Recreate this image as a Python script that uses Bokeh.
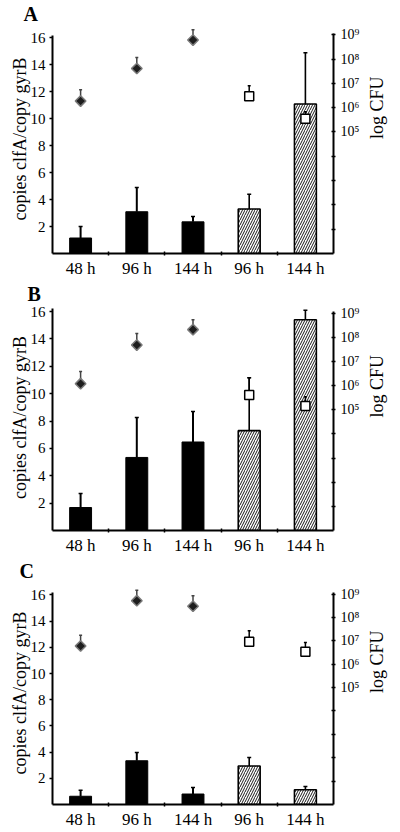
import math
from bokeh.plotting import figure
from bokeh.models import Range1d, LinearAxis, FixedTicker
from bokeh.layouts import column
from bokeh.embed import file_html
from bokeh.resources import INLINE

categories = ["48 h", "96 h", "144 h", "96 h", "144 h"]
left_ticks = [2, 4, 6, 8, 10, 12, 14, 16]
log_ticks = [1, 2, 3, 4, 5, 6, 7, 8, 9]
log_labels = {1: "", 2: "", 3: "", 4: "", 5: "10⁵", 6: "10⁶", 7: "10⁷", 8: "10⁸", 9: "10⁹"}

# Panel A
a_solid = [1.15, 3.1, 2.35]
a_solid_err = [2.0, 4.9, 2.75]
a_hatch = [3.3, 11.1]
a_hatch_err = [4.4, 14.9]
a_diamond = [6.27, 7.61, 8.78]
a_diamond_err = [6.74, 8.06, 9.2]
a_square = [6.47, 5.54]
a_square_err = [6.9, 5.83]

# Panel B
b_solid = [1.68, 5.34, 6.47]
b_solid_err = [2.7, 8.26, 8.69]
b_hatch = [7.3, 15.4]
b_hatch_err = [11.16, 16.1]
b_diamond = [6.08, 7.68, 8.32]
b_diamond_err = [6.58, 8.16, 8.73]
b_square = [5.61, 5.16]
b_square_err = [6.33, 5.54]

# Panel C
c_solid = [0.63, 3.34, 0.8]
c_solid_err = [1.08, 3.97, 1.3]
c_hatch = [2.94, 1.13]
c_hatch_err = [3.59, 1.38]
c_diamond = [6.78, 8.72, 8.48]
c_diamond_err = [7.24, 9.17, 8.93]
c_square = [6.96, 6.54]
c_square_err = [7.43, 6.93]

FONT = "Liberation Serif"
W = 400


def panel(letter, solid, solid_err, hatch, hatch_err, dia, dia_err, sq, sq_err,
          height, mb_top, mb_bottom, mb_left, mb_right, left_end, right_end, letter_offset):
    xs = [i + 0.5 for i in range(len(categories))]
    xs_solid = xs[:3]
    xs_hatch = xs[3:]
    p = figure(width=W, height=height, output_backend="svg", toolbar_location=None,
               x_range=Range1d(0, 5), y_range=Range1d(0, left_end),
               min_border_top=mb_top, min_border_bottom=mb_bottom,
               min_border_left=mb_left, min_border_right=mb_right,
               y_axis_location=None, x_axis_location=None, title=letter)
    p.outline_line_color = None
    p.grid.visible = False
    p.background_fill_color = "white"
    p.border_fill_color = "white"
    p.title.align = "left"
    p.title.offset = letter_offset
    p.title.standoff = 0
    p.title.text_font = FONT
    p.title.text_font_size = "20px"
    p.title.text_font_style = "bold"
    p.title.text_color = "black"
    p.extra_y_ranges = {"log": Range1d(0, right_end)}

    # left axis
    la = LinearAxis(ticker=FixedTicker(ticks=left_ticks, minor_ticks=[]),
                    axis_label="copies clfA/copy gyrB", bounds=(0, 16.2))
    # right axis
    ra = LinearAxis(y_range_name="log", ticker=FixedTicker(ticks=log_ticks, minor_ticks=[]),
                    axis_label="log CFU", bounds=(0, 9.05))
    ra.major_label_overrides = log_labels
    # bottom axis
    ba = LinearAxis(ticker=FixedTicker(ticks=xs, minor_ticks=[1, 2, 3, 4]))
    ba.major_label_overrides = {x: c for x, c in zip(xs, categories)}

    for ax in (la, ra, ba):
        ax.axis_line_color = "black"
        ax.axis_line_width = 2
        ax.major_tick_line_color = "black"
        ax.major_tick_line_width = 1.5
        ax.minor_tick_line_color = "black"
        ax.minor_tick_line_width = 1.5
        ax.major_label_text_font = FONT
        ax.major_label_text_font_size = "15px"
        ax.major_label_text_color = "black"
        ax.axis_label_text_font = FONT
        ax.axis_label_text_font_size = "18px"
        ax.axis_label_text_font_style = "normal"
        ax.axis_label_text_color = "black"
    ba.major_label_text_font_size = "17px"
    ra.major_label_text_font_size = "14px"
    la.major_tick_in = 0
    la.major_tick_out = 3
    la.major_label_standoff = 4
    la.axis_label_standoff = -2
    ra.major_tick_in = 2
    ra.major_tick_out = 2
    ra.major_label_standoff = 5
    ra.axis_label_standoff = 15
    try:
        ra.axis_label_orientation = math.pi / 2
    except Exception:
        pass
    ba.major_tick_line_color = None
    ba.major_tick_in = 0
    ba.major_tick_out = 2
    ba.minor_tick_in = 2
    ba.minor_tick_out = 2
    ba.major_label_standoff = 3

    p.add_layout(la, "left")
    p.add_layout(ra, "right")
    p.add_layout(ba, "below")

    bw = 0.39
    # solid bars
    p.vbar(x=xs_solid, top=solid, bottom=0, width=bw, fill_color="black", line_color="black")
    p.segment(x0=xs_solid, y0=solid, x1=xs_solid, y1=solid_err, line_color="black", line_width=2)
    p.scatter(x=xs_solid, y=solid_err, marker="dash", size=4, line_color="black", line_width=1.5)
    # hatched bars
    p.vbar(x=xs_hatch, top=hatch, bottom=0, width=bw, fill_color="white", line_color="black",
           line_width=1.6, hatch_pattern="/", hatch_scale=5, hatch_weight=0.9, hatch_color="black")
    p.segment(x0=xs_hatch, y0=hatch, x1=xs_hatch, y1=hatch_err, line_color="black", line_width=1.6)
    p.scatter(x=xs_hatch, y=hatch_err, marker="dash", size=4, line_color="black", line_width=1.5)

    # diamonds (log CFU)
    p.segment(x0=xs_solid, y0=dia, x1=xs_solid, y1=dia_err, line_color="#444444", line_width=1.5,
              y_range_name="log")
    p.scatter(x=xs_solid, y=dia_err, marker="dash", size=3, line_color="#444444", line_width=1.5,
              y_range_name="log")
    p.scatter(x=xs_solid, y=dia, marker="square", angle=math.pi / 4, size=7.5,
              fill_color="#1e1e1e", line_color="#7a7a7a", line_width=1.5, y_range_name="log")
    # squares (log CFU)
    p.segment(x0=xs_hatch, y0=sq, x1=xs_hatch, y1=sq_err, line_color="black", line_width=1.5,
              y_range_name="log")
    p.scatter(x=xs_hatch, y=sq_err, marker="dash", size=3, line_color="black", line_width=1.5,
              y_range_name="log")
    p.scatter(x=xs_hatch, y=sq, marker="square", size=9, fill_color="white", line_color="black",
              line_width=1.5, y_range_name="log")
    return p


pA = panel("A", a_solid, a_solid_err, a_hatch, a_hatch_err, a_diamond, a_diamond_err, a_square, a_square_err,
           height=280, mb_top=23, mb_bottom=24, mb_left=45, mb_right=62,
           left_end=17.0, right_end=9.42, letter_offset=-29)
pB = panel("B", b_solid, b_solid_err, b_hatch, b_hatch_err, b_diamond, b_diamond_err, b_square, b_square_err,
           height=277, mb_top=23, mb_bottom=24, mb_left=43, mb_right=62,
           left_end=16.52, right_end=9.36, letter_offset=-25)
pC = panel("C", c_solid, c_solid_err, c_hatch, c_hatch_err, c_diamond, c_diamond_err, c_square, c_square_err,
           height=274, mb_top=23, mb_bottom=25, mb_left=52, mb_right=65,
           left_end=17.03, right_end=9.54, letter_offset=-33)

layout = column(pA, pB, pC, spacing=0)
open("out.html", "w").write(file_html(layout, INLINE))
